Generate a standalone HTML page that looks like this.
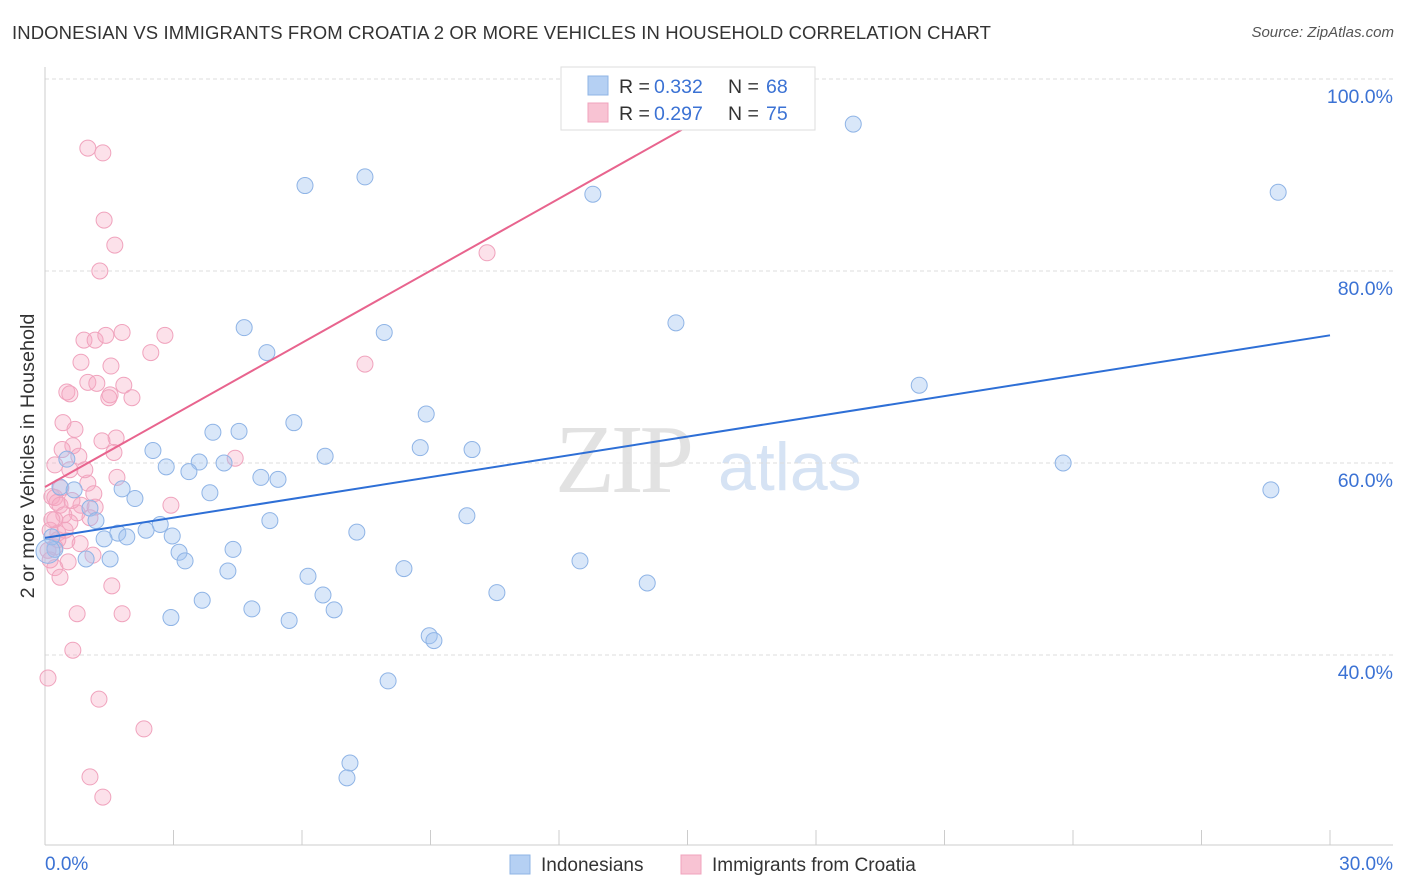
<!DOCTYPE html>
<html><head><meta charset="utf-8">
<style>
body{margin:0;background:#fff;font-family:"Liberation Sans",sans-serif;}
#wrap{position:relative;width:1406px;height:892px;overflow:hidden;}
.title{position:absolute;left:12px;top:22px;font-size:18.5px;color:#333;letter-spacing:0.1px}
.src{position:absolute;right:12px;top:24px;font-size:15px;color:#555;font-style:italic}
</style></head><body>
<div id="wrap">
<div class="title">INDONESIAN VS IMMIGRANTS FROM CROATIA 2 OR MORE VEHICLES IN HOUSEHOLD CORRELATION CHART</div>
<div class="src">Source: ZipAtlas.com</div>
<svg id="svg" width="1406" height="892" style="position:absolute;left:0;top:0"></svg>
</div>
<script>
const blueX=[18.87,28.79,6.07,7.47,12.79,14.73,4.65,7.92,5.18,20.41,8.90,5.81,3.92,4.53,8.76,9.97,2.52,6.54,3.60,2.83,4.18,3.36,23.77,28.62,5.04,5.44,0.51,3.85,1.80,2.10,0.35,0.68,1.05,1.19,5.25,9.85,2.69,2.36,1.70,1.91,1.38,2.97,7.28,4.39,3.13,3.27,1.52,0.96,12.49,14.06,4.27,6.14,8.38,6.49,3.67,4.83,6.75,10.55,2.94,5.70,8.97,9.08,8.01,7.12,7.05,0.23,0.16,0.07];
const blueY=[95.3,88.2,88.9,89.8,88.0,74.6,74.1,73.6,71.5,68.1,65.1,64.2,63.2,63.3,61.6,61.4,61.3,60.7,60.1,59.6,60.0,59.1,60.0,57.2,58.5,58.3,60.4,56.9,57.3,56.3,57.5,57.2,55.3,54.0,54.0,54.5,53.6,53.0,52.7,52.3,52.1,52.4,52.8,51.0,50.7,49.8,50.0,50.0,49.8,47.5,48.75,48.2,49.0,46.25,45.7,44.8,44.7,46.5,43.9,43.6,42.0,41.5,37.3,28.75,27.2,51.0,52.3,50.8];
const pinkX=[1.00,1.35,1.38,1.63,1.28,10.32,0.91,1.17,1.42,1.80,2.80,2.47,0.84,1.54,7.47,1.00,1.21,1.84,0.51,0.58,1.52,2.03,1.49,0.42,0.70,1.66,1.33,0.65,1.61,4.44,0.40,0.23,0.58,1.68,1.00,2.94,1.14,0.16,0.23,0.28,0.35,0.84,0.75,0.44,1.05,0.23,0.58,0.12,0.30,0.51,0.82,0.23,1.12,0.54,0.23,0.35,1.56,1.80,0.75,0.65,0.07,1.26,2.31,1.05,1.35,0.07,0.16,0.37,0.79,0.30,0.63,1.17,0.47,0.12,0.93];
const pinkY=[92.8,92.3,85.3,82.7,80.0,81.9,72.8,72.8,73.3,73.6,73.3,71.5,70.5,70.1,70.3,68.4,68.3,68.1,67.4,67.2,67.1,66.8,66.8,64.2,63.5,62.6,62.3,61.8,61.1,60.5,61.4,59.8,59.3,58.5,57.9,55.6,56.8,56.5,56.4,55.9,55.6,55.6,54.8,54.6,54.3,54.1,53.8,53.0,52.7,51.9,51.6,51.25,50.4,49.7,49.1,48.1,47.2,44.3,44.3,40.5,37.6,35.4,32.3,27.3,25.2,50.9,54.1,57.4,60.7,52.0,56.1,55.4,53.0,49.9,59.3];
const blueTrendX=[0,30];
const blueTrendY=[52.2,73.3];
const pinkTrendX=[0,15.06];
const pinkTrendY=[57.5,95.2];
const yTicks=[40,60,80,100];
const yTickLabels=["40.0%","60.0%","80.0%","100.0%"];

const X0=45,X1=1330,YB=845;
const sx=v=>X0+(v/30)*(X1-X0);
const sy=v=>79+(100-v)*9.6;
const svg=document.getElementById('svg');
const NS='http://www.w3.org/2000/svg';
function mk(tag,attrs,parent){const e=document.createElementNS(NS,tag);for(const k in attrs)e.setAttribute(k,attrs[k]);(parent||svg).appendChild(e);return e;}

let w1=mk('text',{x:555,y:492,'font-family':'Liberation Serif, serif','font-size':98,fill:'#e2e2e2','letter-spacing':-4});
w1.textContent='ZIP';


let w2=mk('text',{x:718,y:490,'font-family':'Liberation Sans, sans-serif','font-size':68,fill:'#d6e3f4'});
w2.textContent='atlas';



yTicks.forEach((t,i)=>{
  let g=mk('line',{x1:X0,x2:1393,y1:sy(t),y2:sy(t),stroke:'#dddddd','stroke-dasharray':'4,3'});
  
  
  let l=mk('text',{x:1393,y:sy(t)+24,'text-anchor':'end','font-size':19.5,fill:'#3b72d4'});
  l.textContent=yTickLabels[i];
  
  
});
let ax=mk('line',{x1:X0,x2:X0,y1:67,y2:YB,stroke:'#cccccc'});


let bx=mk('line',{x1:X0,x2:1393,y1:YB,y2:YB,stroke:'#cccccc'});


for(let i=0;i<=10;i++){
  let t=mk('line',{x1:sx(i*3),x2:sx(i*3),y1:830,y2:YB,stroke:'#cccccc'});
  
  
}
let xl0=mk('text',{x:45,y:870,'font-size':19,fill:'#3b72d4'});xl0.textContent='0.0%';


let xl1=mk('text',{x:1393,y:870,'text-anchor':'end','font-size':19,fill:'#3b72d4'});xl1.textContent='30.0%';


let yt=mk('text',{x:34,y:456,'font-size':19.8,fill:'#333','text-anchor':'middle',transform:'rotate(-90 34 456)'});
yt.textContent='2 or more Vehicles in Household';



pinkX.forEach((v,i)=>{
  let c=mk('circle',{cx:sx(v),cy:sy(pinkY[i]),r:8,fill:'rgba(245,170,195,0.35)',stroke:'#f0a3bd','stroke-width':1});
  
  
});
blueX.forEach((v,i)=>{
  let c=mk('circle',{cx:sx(v),cy:sy(blueY[i]),r:(i==blueX.length-1?12:8),fill:'rgba(160,196,240,0.4)',stroke:'#8fb4e6','stroke-width':1});
  
  
});
let bl=mk('line',{x1:sx(blueTrendX[0]),y1:sy(blueTrendY[0]),x2:sx(blueTrendX[1]),y2:sy(blueTrendY[1]),stroke:'#2e6fd6','stroke-width':2});


let pl=mk('line',{x1:sx(pinkTrendX[0]),y1:sy(pinkTrendY[0]),x2:sx(pinkTrendX[1]),y2:sy(pinkTrendY[1]),stroke:'#e8648e','stroke-width':2});



let lg=mk('g',{});


mk('rect',{x:561,y:67,width:254,height:63,fill:'#fff',stroke:'#dddddd'},lg);
mk('rect',{x:588,y:76,width:20,height:19,fill:'#b5d0f3',stroke:'#8fb4e6'},lg);
mk('rect',{x:588,y:103,width:20,height:19,fill:'#f8c3d3',stroke:'#f0a3bd'},lg);
function lt(x,y,txt,col){let t=mk('text',{x:x,y:y,'font-size':19.5,fill:col},lg);t.textContent=txt;return t;}
lt(619,93,'R =','#333');lt(654,93,'0.332','#3b72d4');lt(728,93,'N =','#333');lt(766,93,'68','#3b72d4');
lt(619,120,'R =','#333');lt(654,120,'0.297','#3b72d4');lt(728,120,'N =','#333');lt(766,120,'75','#3b72d4');

let b1=mk('rect',{x:510,y:855,width:20,height:19,fill:'#b5d0f3',stroke:'#8fb4e6'});


let bt1=mk('text',{x:541,y:871,'font-size':19,fill:'#333'});bt1.textContent='Indonesians';


let b2=mk('rect',{x:681,y:855,width:20,height:19,fill:'#f8c3d3',stroke:'#f0a3bd'});


let bt2=mk('text',{x:712,y:871,'font-size':19,fill:'#333'});bt2.textContent='Immigrants from Croatia';


</script>
</body></html>
